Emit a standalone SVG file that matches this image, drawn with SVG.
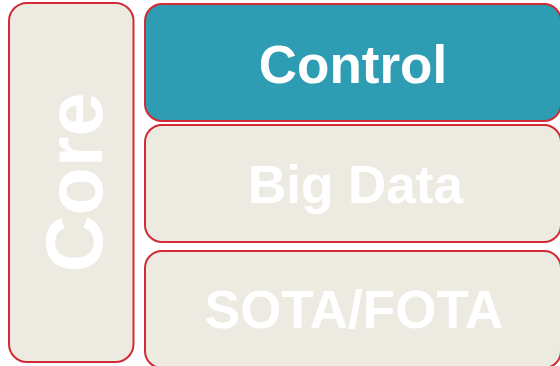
<svg xmlns="http://www.w3.org/2000/svg" width="560" height="366" viewBox="0 0 560 366">
<style>
.box{fill:#edeae1;stroke:#d22b36;stroke-width:2}
.ctl{fill:#2e9db4;stroke:#d22b36;stroke-width:2}
.lbl{font-family:"Liberation Sans",Arial,sans-serif;font-weight:bold;fill:#ffffff;text-anchor:middle}
</style>
<rect width="560" height="366" fill="#ffffff"/>
<g id="core">
<rect class="box" x="9" y="3" width="124.5" height="359" rx="18"/>
<text class="lbl" font-size="79" transform="translate(102,182.5) rotate(-90)">Core</text>
</g>
<g id="control">
<rect class="ctl" x="145" y="4" width="416" height="117" rx="17"/>
<text class="lbl" x="353" y="83" font-size="53">Control</text>
</g>
<g id="bigdata">
<rect class="box" x="145" y="125" width="416" height="117" rx="17"/>
<text class="lbl" x="355.5" y="203" font-size="53">Big Data</text>
</g>
<g id="sota">
<rect class="box" x="145" y="251" width="416" height="117" rx="17"/>
<text class="lbl" x="354" y="328" font-size="53">SOTA/FOTA</text>
</g>
<g id="connectors"></g>
</svg>
